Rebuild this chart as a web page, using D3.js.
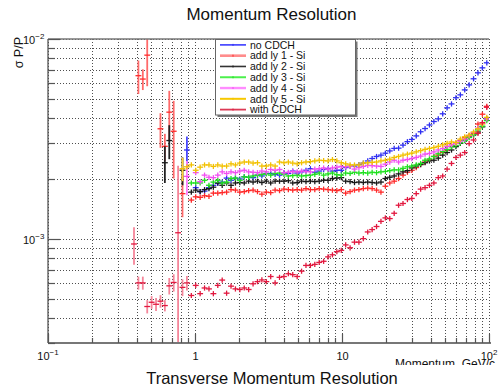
<!DOCTYPE html>
<html>
<head>
<meta charset="utf-8">
<script src="https://cdn.jsdelivr.net/npm/d3@7"></script>
<style>
  body { margin: 0; background: #fff; }
  svg { display: block; font-family: "Liberation Sans", Arial, Helvetica, sans-serif; }
</style>
</head>
<body>
<div id="chart"></div>
<script>
// momentum resolution vs pT, 100 log bins 0.1 .. 100 GeV/c, values are sigma(P)/P in units of 1e-3
const P_MIN = 0.1, P_MAX = 100, N_BINS = 100, FIRST_BIN = 19;
const seriesNames = ["no CDCH", "add ly 1 - Si", "add ly 2 - Si", "add ly 3 - Si", "add ly 4 - Si", "add ly 5 - Si", "with CDCH"];

const noCDCH = [
  null, null, null, null, null, null, null, null, null, null,
  null, null, 2.78, null, 1.80, 1.72, 1.73, 1.80, 1.85, 1.89,
  1.92, 2.01, 1.96, 2.01, 1.99, 2.04, 2.03, 2.02, 2.08, 2.06,
  2.12, 2.12, 2.10, 2.08, 2.14, 2.12, 2.18, 2.13, 2.16, 2.20,
  2.24, 2.15, 2.18, 2.22, 2.24, 2.18, 2.20, 2.20, 2.27, 2.30,
  2.31, 2.35, 2.39, 2.45, 2.52, 2.58, 2.62, 2.68, 2.75, 2.83,
  2.84, 2.94, 3.06, 3.14, 3.27, 3.43, 3.56, 3.71, 3.86, 3.98,
  4.22, 4.52, 4.73, 5.08, 5.25, 5.56, 5.89, 6.32, 6.77, 7.17,
  7.60];
const ly1 = [
  null, 6.55, 6.30, 8.30, null, null, 3.55, 2.90, 4.30, 3.45,
  null, 1.68, null, 1.56, 1.62, 1.61, 1.64, 1.63, 1.69, 1.69,
  1.70, 1.71, 1.76, 1.75, 1.71, 1.72, 1.74, 1.75, 1.72, 1.67,
  1.71, 1.70, 1.75, 1.74, 1.77, 1.76, 1.75, 1.76, 1.75, 1.78,
  1.76, 1.76, 1.78, 1.77, 1.76, 1.75, 1.74, 1.76, 1.69, 1.72,
  1.75, 1.76, 1.78, 1.79, 1.78, 1.75, 1.71, 1.83, 1.90, 1.94,
  2.00, 2.08, 2.15, 2.20, 2.27, 2.35, 2.42, 2.48, 2.58, 2.62,
  2.70, 2.78, 2.90, 3.00, 3.10, 3.20, 3.28, 3.37, 3.75, 4.20,
  4.60];
const ly2 = [
  null, null, null, null, null, null, null, 2.40, 3.10, null,
  null, 2.20, null, 1.71, 1.75, 1.72, 1.76, 1.78, 1.81, 1.90,
  1.85, 1.90, 1.85, 1.90, 1.91, 1.90, 1.94, 1.92, 1.94, 1.91,
  1.94, 1.90, 1.94, 1.94, 1.94, 1.95, 1.90, 1.91, 1.94, 1.93,
  1.94, 1.93, 1.94, 1.96, 1.96, 2.00, 2.01, 2.02, 1.94, 1.93,
  1.91, 1.92, 1.91, 1.92, 1.91, 1.90, 1.92, 2.00, 2.03, 2.06,
  2.11, 2.16, 2.19, 2.26, 2.31, 2.35, 2.40, 2.45, 2.47, 2.53,
  2.62, 2.70, 2.78, 2.89, 3.00, 3.12, 3.24, 3.32, 3.42, 3.63,
  3.98];
const ly3 = [
  null, null, null, null, null, null, null, null, null, null,
  null, null, null, 1.90, 1.90, 1.90, 1.96, 1.85, 1.92, 1.96,
  1.90, 1.92, 2.00, 2.01, 1.96, 2.04, 2.03, 2.06, 2.08, 2.10,
  2.11, 2.08, 2.12, 2.13, 2.10, 2.06, 2.07, 2.08, 2.06, 2.07,
  2.08, 2.10, 2.13, 2.08, 2.11, 2.13, 2.09, 2.08, 2.13, 2.12,
  2.15, 2.13, 2.14, 2.13, 2.15, 2.14, 2.16, 2.17, 2.19, 2.21,
  2.21, 2.25, 2.29, 2.31, 2.34, 2.38, 2.47, 2.51, 2.58, 2.66,
  2.73, 2.80, 2.88, 2.93, 3.02, 3.10, 3.21, 3.32, 3.50, 3.66,
  3.90];
const ly4 = [
  null, null, null, null, null, null, null, null, null, null,
  null, null, 2.05, null, 2.14, 1.93, 2.08, 2.03, 2.02, 2.08,
  2.16, 2.12, 2.16, 2.14, 2.18, 2.20, 2.16, 2.15, 2.14, 2.18,
  2.16, 2.22, 2.20, 2.22, 2.14, 2.15, 2.17, 2.16, 2.18, 2.17,
  2.16, 2.23, 2.24, 2.26, 2.23, 2.26, 2.28, 2.30, 2.29, 2.30,
  2.23, 2.27, 2.30, 2.33, 2.32, 2.31, 2.30, 2.36, 2.42, 2.47,
  2.42, 2.47, 2.49, 2.52, 2.55, 2.59, 2.65, 2.67, 2.72, 2.78,
  2.83, 2.90, 2.96, 3.00, 3.08, 3.15, 3.27, 3.40, 3.58, 3.78,
  3.98];
const ly5 = [
  null, null, null, null, null, null, null, null, null, null,
  null, 2.24, 2.29, 2.34, 2.20, 2.28, 2.34, 2.34, 2.30, 2.34,
  2.31, 2.31, 2.37, 2.34, 2.39, 2.42, 2.42, 2.39, 2.40, 2.31,
  2.31, 2.34, 2.31, 2.42, 2.40, 2.42, 2.39, 2.37, 2.40, 2.42,
  2.43, 2.45, 2.47, 2.46, 2.45, 2.49, 2.45, 2.40, 2.37, 2.34,
  2.34, 2.34, 2.39, 2.40, 2.41, 2.42, 2.45, 2.47, 2.50, 2.55,
  2.58, 2.62, 2.65, 2.68, 2.72, 2.76, 2.80, 2.83, 2.86, 2.90,
  2.95, 3.00, 3.05, 3.03, 3.15, 3.24, 3.30, 3.42, 3.55, 3.75,
  4.05];
const withCDCH = [
  0.94, 0.60, 0.60, 0.457, 0.480, 0.469, 0.486, 0.462, 0.580, 0.603,
  1.07, 0.570, 0.600, 0.519, 0.583, 0.530, 0.566, 0.560, 0.530, 0.583,
  0.620, 0.533, 0.578, 0.560, 0.556, 0.566, 0.556, 0.594, 0.609, 0.621,
  0.609, 0.646, 0.600, 0.640, 0.646, 0.667, 0.660, 0.646, 0.687, 0.734,
  0.734, 0.743, 0.760, 0.770, 0.810, 0.830, 0.860, 0.873, 0.930, 0.900,
  0.960, 0.960, 1.00, 1.08, 1.11, 1.15, 1.22, 1.27, 1.26, 1.34,
  1.47, 1.50, 1.57, 1.59, 1.68, 1.77, 1.80, 1.85, 1.90, 2.02,
  2.06, 2.23, 2.38, 2.55, 2.62, 2.70, 2.99, 3.12, 3.37, 3.81,
  4.55];

// large errors of the low-pT bins (same units, from FIRST_BIN on); later bins use REL_ERR
const noCDCHErr   = [null, null, null, null, null, null, null, null, null, null, null, null, 0.47];
const ly1Err      = [null, 1.25, 0.75, 2.5, null, null, 0.7, 0.45, 1.2, 1.45, null, 0.4];
const ly2Err      = [null, null, null, null, null, null, null, 0.5, 0.6, null, null, 0.35];
const ly3Err      = [];
const ly4Err      = [null, null, null, null, null, null, null, null, null, null, null, null, 0.4];
const ly5Err      = [null, null, null, null, null, null, null, null, null, null, null, 0.3];
const withCDCHErr = [0.20, 0.045, 0.045, 0.035, 0.035, 0.035, 0.035, 0.03, 0.055, 0.06, 1.25, 0.055, 0.05];
const REL_ERR = 0.03;

const xTickLabels = [{v: 0.1, base: "10", exp: "\u22121"}, {v: 1, base: "1"}, {v: 10, base: "10"}, {v: 100, base: "10", exp: "2"}];
const yTickLabels = [{v: 1e-2, base: "10", exp: "\u22122"}, {v: 1e-3, base: "10", exp: "\u22123"}];

const series = [
  {name: seriesNames[0], vals: noCDCH,   errs: noCDCHErr,   color: "#2f2ff2", errColor: "#4848ff", legColor: "#3c3cff", legW: 1.6},
  {name: seriesNames[1], vals: ly1,      errs: ly1Err,      color: "#ff2a2a", errColor: "#ff6a6a", legColor: "#ff8c8c", legW: 2.6},
  {name: seriesNames[2], vals: ly2,      errs: ly2Err,      color: "#1a1a1a", errColor: "#222",    legColor: "#333",    legW: 1.6},
  {name: seriesNames[3], vals: ly3,      errs: ly3Err,      color: "#1fe01f", errColor: "#3cf03c", legColor: "#4cf04c", legW: 2},
  {name: seriesNames[4], vals: ly4,      errs: ly4Err,      color: "#f24ef2", errColor: "#ff7aff", legColor: "#ff8cff", legW: 2.4},
  {name: seriesNames[5], vals: ly5,      errs: ly5Err,      color: "#f2c100", errColor: "#ffd23a", legColor: "#f7c800", legW: 2},
  {name: seriesNames[6], vals: withCDCH, errs: withCDCHErr, color: "#e2183f", errColor: "#f5869a", legColor: "#dc3a55", legW: 1.8}
];

const W = 501, H = 385;
const m = {l: 48, r: 12, t: 39, b: 42};
const svg = d3.select("#chart").append("svg").attr("width", W).attr("height", H);

const x = d3.scaleLog().domain([P_MIN, P_MAX]).range([m.l, W - m.r]);
const y = d3.scaleLog().domain([3e-4, 1e-2]).range([H - m.b, m.t]);
const [x0, x1] = x.range(), [y0, y1] = y.range();

const dec = Math.log10(P_MAX / P_MIN) / N_BINS;
const binCenter = i => P_MIN * Math.pow(10, (i + 0.5) * dec);
const X_HALF = 0.02; // half width of the horizontal bar, in decades

// grid values: 1..9 x 10^k inside each domain
function logSteps(lo, hi) {
  const out = [];
  for (let e = Math.floor(Math.log10(lo)); e <= Math.ceil(Math.log10(hi)); e++)
    for (let k = 1; k <= 9; k++) { const v = k * Math.pow(10, e); if (v >= lo * 0.999 && v <= hi * 1.001) out.push(v); }
  return out;
}
const xGrid = logSteps(P_MIN, P_MAX), yGrid = logSteps(3e-4, 1e-2);
const isMajor = v => Math.abs(Math.log10(v) - Math.round(Math.log10(v))) < 1e-6;

const grid = svg.append("g").attr("stroke", "#222").attr("stroke-dasharray", "1,2").attr("stroke-width", 1).attr("opacity", 0.8);
grid.selectAll(".gx").data(xGrid).join("line")
  .attr("x1", d => Math.round(x(d)) + 0.5).attr("x2", d => Math.round(x(d)) + 0.5).attr("y1", y1).attr("y2", y0);
grid.selectAll(".gy").data(yGrid).join("line")
  .attr("y1", d => Math.round(y(d)) + 0.5).attr("y2", d => Math.round(y(d)) + 0.5).attr("x1", x0).attr("x2", x1);

// data
svg.append("defs").append("clipPath").attr("id", "plotclip")
  .append("rect").attr("x", x0).attr("y", y1).attr("width", x1 - x0).attr("height", y0 - y1);
const plot = svg.append("g").attr("clip-path", "url(#plotclip)");

series.forEach(s => {
  const pts = [];
  s.vals.forEach((v, k) => {
    if (v == null) return;
    const big = s.errs[k] != null;
    pts.push({p: binCenter(FIRST_BIN + k), v: v * 1e-3, e: (big ? s.errs[k] : v * REL_ERR) * 1e-3, big});
  });
  const g = plot.append("g");
  g.selectAll(".v").data(pts).join("line")
    .attr("x1", d => x(d.p)).attr("x2", d => x(d.p))
    .attr("y1", d => d.v - d.e > 3e-4 ? y(d.v - d.e) : y0 + 5)
    .attr("y2", d => y(d.v + d.e))
    .attr("stroke", d => d.big ? s.errColor : s.color)
    .attr("stroke-width", d => d.big ? 1.8 : 1.3);
  g.selectAll(".h").data(pts).join("line")
    .attr("x1", d => x(d.p / Math.pow(10, X_HALF))).attr("x2", d => x(d.p * Math.pow(10, X_HALF)))
    .attr("y1", d => y(d.v)).attr("y2", d => y(d.v))
    .attr("stroke", s.color).attr("stroke-width", 1.3);
});

// frame and ticks
const axisCol = "#555";
svg.append("line").attr("x1", x0).attr("x2", x1).attr("y1", y1).attr("y2", y1).attr("stroke", "#777").attr("stroke-width", 1.3);
svg.append("line").attr("x1", x0).attr("x2", x0).attr("y1", y1).attr("y2", y0).attr("stroke", axisCol).attr("stroke-width", 1.3);
svg.append("line").attr("x1", x0).attr("x2", x1 + 2).attr("y1", y0).attr("y2", y0).attr("stroke", "#777").attr("stroke-width", 1.8);

svg.append("g").selectAll("line").data(yGrid).join("line")
  .attr("x1", x0).attr("x2", d => x0 + (isMajor(d) ? 12 : 7))
  .attr("y1", d => Math.round(y(d)) + 0.5).attr("y2", d => Math.round(y(d)) + 0.5)
  .attr("stroke", axisCol).attr("stroke-width", 1.2);
svg.append("g").selectAll("line").data(xGrid).join("line")
  .attr("y1", y0).attr("y2", d => y0 - (isMajor(d) ? 9 : 5))
  .attr("x1", d => Math.round(x(d)) + 0.5).attr("x2", d => Math.round(x(d)) + 0.5)
  .attr("stroke", axisCol).attr("stroke-width", 1.2);

// tick labels with exponents
function powLabel(sel, d) {
  sel.append("tspan").text(d.base);
  if (d.exp) sel.append("tspan").attr("font-size", 8).attr("dy", -5).text(d.exp);
}
svg.append("g").selectAll("text").data(xTickLabels).join("text")
  .attr("x", d => x(d.v) + (d.exp ? 0 : 0.5)).attr("y", y0 + 17)
  .attr("text-anchor", "middle").attr("font-size", 11).attr("fill", "#111")
  .each(function(d) { powLabel(d3.select(this), d); });
svg.append("g").selectAll("text").data(yTickLabels).join("text")
  .attr("x", 23).attr("y", d => y(d.v) + 5)
  .attr("font-size", 11).attr("fill", "#111")
  .each(function(d) { powLabel(d3.select(this), d); });

// axis titles
svg.append("text").attr("transform", `translate(22.5,${y1 - 2}) rotate(-90)`)
  .attr("text-anchor", "end").attr("font-size", 12.5).attr("fill", "#111").text("\u03c3 P/P");
svg.append("text").attr("x", 395).attr("y", 368).attr("font-size", 12).attr("fill", "#111").text("Momentum, GeV/c");
svg.append("rect").attr("x", 0).attr("y", 365).attr("width", W).attr("height", H - 365).attr("fill", "#fff");
svg.append("text").attr("x", 272).attr("y", 383.5).attr("text-anchor", "middle").attr("font-size", 16.5).attr("fill", "#111")
  .text("Transverse Momentum Resolution");
svg.append("text").attr("x", 271.5).attr("y", 20).attr("text-anchor", "middle").attr("font-size", 17).attr("fill", "#111")
  .text("Momentum Resolution");

// legend
const leg = {x: 215.5, y: 39.5, w: 140, h: 75.5};
svg.append("rect").attr("x", leg.x + 2).attr("y", leg.y + 2).attr("width", leg.w).attr("height", leg.h).attr("fill", "#777");
svg.append("rect").attr("x", leg.x).attr("y", leg.y).attr("width", leg.w).attr("height", leg.h)
  .attr("fill", "#fff").attr("stroke", "#666").attr("stroke-width", 1);
const row = d3.scaleBand().domain(seriesNames).range([leg.y, leg.y + leg.h]);
const lg = svg.append("g").selectAll("g").data(series).join("g")
  .attr("transform", d => `translate(0,${row(d.name) + row.bandwidth() / 2})`);
lg.append("line").attr("x1", 220).attr("x2", 246).attr("stroke", d => d.legColor).attr("stroke-width", d => d.legW);
lg.append("line").attr("x1", 233).attr("x2", 233).attr("y1", -1).attr("y2", 1).attr("stroke", d => d.color).attr("stroke-width", 1);
lg.append("text").attr("x", 250).attr("y", 3.8).attr("font-size", 10.5).attr("fill", "#111").text(d => d.name);
</script>
</body>
</html>
